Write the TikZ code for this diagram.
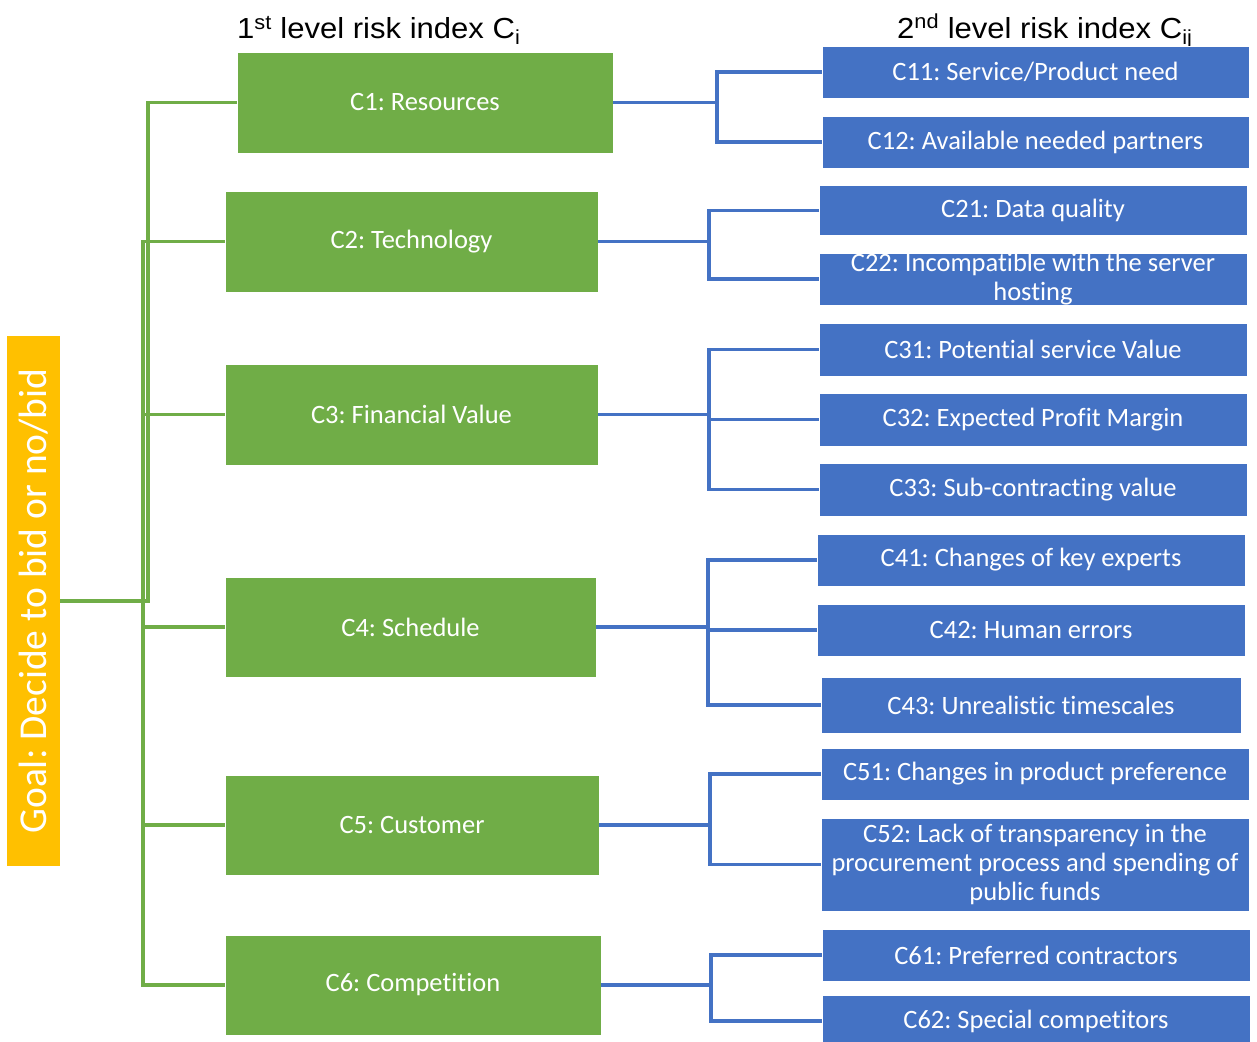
\documentclass[tikz,border=0pt]{standalone}
\usepackage{fontspec}
\setmainfont{Carlito}[Ligatures=NoCommon]
\newfontfamily\titlefont{Liberation Sans}[FakeStretch=1.07]
\newfontfamily\goalfont{Carlito}
\definecolor{cgreen}{HTML}{70AD47}
\definecolor{cblue}{HTML}{4472C4}
\definecolor{corange}{HTML}{FFC000}
\frenchspacing
\begin{document}
\begin{tikzpicture}[x=1pt,y=-1pt,
  gbox/.style={fill=cgreen,draw=white,line width=0.6pt,text=white,inner sep=0pt,font=\fontsize{26.5}{29}\selectfont},
  bbox/.style={fill=cblue,draw=white,line width=0.6pt,text=white,inner sep=0pt,align=center,font=\fontsize{26.5}{29}\selectfont},
  gl/.style={draw=cgreen,line width=3.2pt},
  bl/.style={draw=cblue,line width=3.2pt},
  ttl/.style={anchor=base west,inner sep=0pt,font=\titlefont\fontsize{29}{32}\selectfont}]
\useasboundingbox (0,0) rectangle (1257,1041);
% goal
\node[fill=corange,minimum width=53pt,minimum height=530pt,inner sep=0pt,text=white,font=\goalfont\fontsize{39.5}{42}\selectfont] (goal) at (33.5,601) {\rotatebox{90}{Goal: Decide to bid or no/bid}};
% titles
\node[ttl] (t1) at (237,38.5) {1\textsuperscript{st} level risk index C\textsubscript{i}};
\node[ttl] (t2) at (897,38) {2\textsuperscript{nd} level risk index C\textsubscript{ij}};
% level 1
\node[gbox,minimum width=376pt,minimum height=101pt] (c1) at (425,102.5) {C1: Resources};
\node[gbox,minimum width=373pt,minimum height=101pt] (c2) at (411.5,241.5) {C2: Technology};
\node[gbox,minimum width=373pt,minimum height=101pt] (c3) at (411.5,414.5) {C3: Financial Value};
\node[gbox,minimum width=371pt,minimum height=100pt] (c4) at (410.5,627) {C4: Schedule};
\node[gbox,minimum width=374pt,minimum height=100pt] (c5) at (412,825) {C5: Customer};
\node[gbox,minimum width=376pt,minimum height=100pt] (c6) at (413,985) {C6: Competition};
% level 2
\node[bbox,minimum width=427pt,minimum height=52pt] (c11) at (1035.5,72) {C11: Service/Product need};
\node[bbox,minimum width=427pt,minimum height=52pt] (c12) at (1035.5,142) {C12: Available needed partners};
\node[bbox,minimum width=428pt,minimum height=50pt] (c21) at (1033,210.5) {C21: Data quality};
\node[bbox,minimum width=428pt,minimum height=52pt] (c22) at (1033,279) {C22: Incompatible with the server\\hosting};
\node[bbox,minimum width=428pt,minimum height=53pt] (c31) at (1033,349.5) {C31: Potential service Value};
\node[bbox,minimum width=428pt,minimum height=53pt] (c32) at (1033,419.5) {C32: Expected Profit Margin};
\node[bbox,minimum width=428pt,minimum height=53pt] (c33) at (1033,489.5) {C33: Sub-contracting value};
\node[bbox,minimum width=428pt,minimum height=52pt] (c41) at (1031,560) {C41: Changes of key experts};
\node[bbox,minimum width=428pt,minimum height=52pt] (c42) at (1031,630) {C42: Human errors};
\node[bbox,minimum width=420pt,minimum height=56pt] (c43) at (1031,705) {C43: Unrealistic timescales};
\node[bbox,minimum width=428pt,minimum height=52pt] (c51) at (1035,774) {C51: Changes in product preference};
\node[bbox,minimum width=428pt,minimum height=93pt] (c52) at (1035,864.5) {C52: Lack of transparency in the\\procurement process and spending of\\public funds};
\node[bbox,minimum width=428pt,minimum height=52pt] (c61) at (1036,955) {C61: Preferred contractors};
\node[bbox,minimum width=428pt,minimum height=52pt] (c62) at (1036,1021) {C62: Special competitors};
% green connectors
\coordinate (g1) at (148,601);
\coordinate (g2) at (143,601);
\draw[gl] (goal.east) -- (g1) |- (c1.west);
\draw[gl] (c2.west) -| (g2) |- (c6.west);
\draw[gl] (g2 |- c3.west) -- (c3.west);
\draw[gl] (g2 |- c4.west) -- (c4.west);
\draw[gl] (g2 |- c5.west) -- (c5.west);
% blue connectors
\coordinate (b1) at (717,102.5);
\coordinate (b2) at (709,241.5);
\coordinate (b3) at (709,414.5);
\coordinate (b4) at (708,627);
\coordinate (b5) at (710,825);
\coordinate (b6) at (711,985);
\draw[bl] (c1.east) -- (b1);
\draw[bl] (c11.west) -| (b1) |- (c12.west);
\draw[bl] (c2.east) -- (b2);
\draw[bl] (c21.west) -| (b2) |- (c22.west);
\draw[bl] (c3.east) -- (b3);
\draw[bl] (c31.west) -| (b3) |- (c33.west);
\draw[bl] (b3 |- c32.west) -- (c32.west);
\draw[bl] (c4.east) -- (b4);
\draw[bl] (c41.west) -| (b4) |- (c43.west);
\draw[bl] (b4 |- c42.west) -- (c42.west);
\draw[bl] (c5.east) -- (b5);
\draw[bl] (c51.west) -| (b5) |- (c52.west);
\draw[bl] (c6.east) -- (b6);
\draw[bl] (c61.west) -| (b6) |- (c62.west);
\end{tikzpicture}
\end{document}
